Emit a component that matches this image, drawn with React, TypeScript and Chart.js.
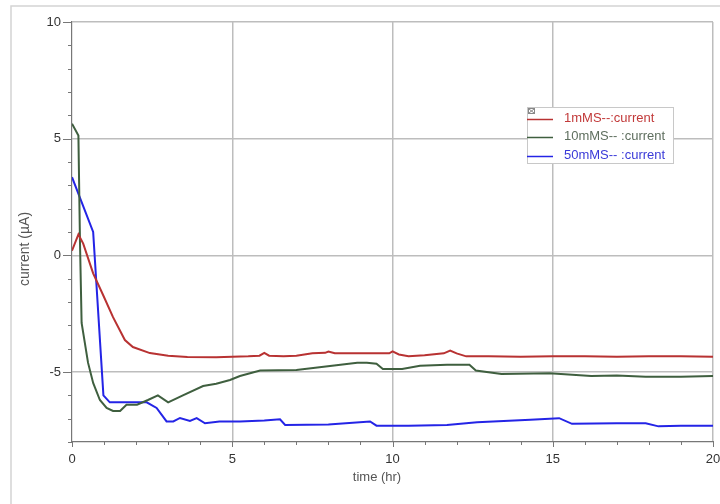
import React, { useEffect, useRef } from "react";
import { Chart, registerables } from "chart.js";

Chart.register(...registerables);

// ---- data ----
const timeRed = [0, 0.2, 0.35, 0.66, 0.97, 1.28, 1.65, 1.9, 2.43, 3.0, 3.6, 4.5, 5.5, 5.85, 6.0, 6.15, 6.6, 7.0, 7.5, 7.9, 8.0, 8.2, 9.0, 9.9, 10.0, 10.2, 10.5, 11.0, 11.6, 11.8, 12.0, 12.3, 13.0, 14.0, 15.0, 16.0, 17.0, 18.0, 19.0, 20.0];
const currentRed = [0.2, 0.9, 0.5, -0.77, -1.7, -2.65, -3.63, -3.93, -4.19, -4.3, -4.36, -4.37, -4.33, -4.3, -4.18, -4.3, -4.32, -4.3, -4.2, -4.18, -4.12, -4.2, -4.2, -4.2, -4.12, -4.25, -4.32, -4.28, -4.2, -4.08, -4.2, -4.33, -4.33, -4.35, -4.33, -4.33, -4.35, -4.33, -4.33, -4.35];

const timeGreen = [0, 0.2, 0.25, 0.3, 0.5, 0.66, 0.87, 1.08, 1.28, 1.5, 1.7, 2.03, 2.37, 2.68, 3.0, 3.46, 4.09, 4.5, 4.93, 5.24, 5.87, 7.0, 8.05, 8.9, 9.2, 9.5, 9.7, 10.3, 10.86, 11.7, 12.4, 12.6, 13.4, 14.9, 16.2, 17.0, 17.9, 19.0, 20.0];
const currentGreen = [5.64, 5.13, 0.5, -2.9, -4.6, -5.47, -6.2, -6.54, -6.67, -6.67, -6.4, -6.4, -6.2, -6.0, -6.3, -6.0, -5.6, -5.5, -5.34, -5.17, -4.94, -4.91, -4.74, -4.6, -4.6, -4.65, -4.87, -4.87, -4.73, -4.69, -4.69, -4.94, -5.09, -5.05, -5.17, -5.15, -5.2, -5.2, -5.17];

const timeBlue = [0, 0.66, 0.98, 1.18, 2.33, 2.64, 2.95, 3.16, 3.37, 3.68, 3.89, 4.15, 4.6, 5.24, 6.0, 6.49, 6.65, 8.0, 9.3, 9.5, 10.5, 11.7, 12.64, 14.3, 15.2, 15.6, 17.0, 17.9, 18.3, 19.0, 20.0];
const currentBlue = [3.35, 1.0, -6.0, -6.3, -6.3, -6.54, -7.12, -7.12, -6.97, -7.1, -6.98, -7.2, -7.12, -7.12, -7.08, -7.03, -7.27, -7.25, -7.12, -7.3, -7.3, -7.27, -7.15, -7.05, -6.98, -7.22, -7.2, -7.2, -7.33, -7.3, -7.3];

const seriesLabels = ["1mMS--:current", "10mMS-- :current", "50mMS-- :current"];
const lineColors = ["#b83232", "#3f5f3f", "#2424e6"];
const legendTextColors = ["#c23a3a", "#5f6f5f", "#3a3ad8"];

const xMajorTicks = [0, 5, 10, 15, 20];
const yMajorTicks = [-5, 0, 5, 10];
const xTitle = "time (hr)";
const yTitle = "current (µA)";

const FONT = "'Liberation Sans', Arial, sans-serif";

export default function App() {
  const ref = useRef<HTMLCanvasElement>(null);

  useEffect(() => {
    document.body.style.margin = "0";
    const canvas = ref.current;
    if (!canvas) return;
    const ctx = canvas.getContext("2d");
    if (!ctx) return;

    const pts = (xs: number[], ys: number[]) => xs.map((x, i) => ({ x, y: ys[i] }));

    const decor = {
      id: "decor",
      beforeDraw(chart: any) {
        const c = chart.ctx;
        c.save();
        c.fillStyle = "#ffffff";
        c.fillRect(0, 0, chart.width, chart.height);
        c.strokeStyle = "#d4d4d4";
        c.lineWidth = 1.5;
        c.beginPath();
        c.moveTo(11, chart.height);
        c.lineTo(11, 6);
        c.lineTo(chart.width, 6);
        c.stroke();
        c.restore();
      },
      afterDatasetsDraw(chart: any) {
        const c = chart.ctx;
        const xs = chart.scales.x;
        const ys = chart.scales.y;
        const area = chart.chartArea;
        c.save();
        // ticks
        c.strokeStyle = "#777";
        c.lineWidth = 1;
        c.beginPath();
        for (const t of ys.ticks) {
          const py = Math.round(ys.getPixelForValue(t.value)) + 0.5;
          const len = yMajorTicks.includes(t.value) ? 9 : 4;
          c.moveTo(area.left - len, py);
          c.lineTo(area.left, py);
        }
        for (const t of xs.ticks) {
          const px = Math.round(xs.getPixelForValue(t.value)) + 0.5;
          const len = xMajorTicks.includes(t.value) ? 5 : 3;
          c.moveTo(px, area.bottom - 1);
          c.lineTo(px, area.bottom + len);
        }
        c.stroke();

        // axis titles
        c.fillStyle = "#555";
        c.textAlign = "center";
        c.textBaseline = "middle";
        c.font = `13px ${FONT}`;
        c.fillText(xTitle, 377, 477);
        c.save();
        c.translate(25, 249);
        c.rotate(-Math.PI / 2);
        c.font = `14px ${FONT}`;
        c.fillText(yTitle, 0, 0);
        c.restore();

        // legend
        const bx = 527, by = 107, bw = 146, bh = 56;
        c.fillStyle = "#ffffff";
        c.fillRect(bx, by, bw, bh);
        c.strokeStyle = "#c8c8c8";
        c.lineWidth = 1;
        c.strokeRect(bx + 0.5, by + 0.5, bw, bh);
        // close icon
        c.strokeStyle = "#888";
        c.strokeRect(528.5, 108.5, 6, 5);
        c.beginPath();
        c.moveTo(529, 109); c.lineTo(534, 113);
        c.moveTo(534, 109); c.lineTo(529, 113);
        c.stroke();
        const rows = [118, 136, 155];
        c.textAlign = "left";
        c.font = `13px ${FONT}`;
        rows.forEach((ry, i) => {
          c.strokeStyle = lineColors[i];
          c.lineWidth = 1.5;
          c.beginPath();
          c.moveTo(527, ry + 1.5);
          c.lineTo(553, ry + 1.5);
          c.stroke();
          c.fillStyle = legendTextColors[i];
          c.fillText(seriesLabels[i], 564, ry);
        });
        c.restore();
      },
    };

    const chart = new Chart(ctx, {
      type: "line",
      data: {
        datasets: [
          { label: seriesLabels[0], data: pts(timeRed, currentRed), borderColor: lineColors[0] },
          { label: seriesLabels[1], data: pts(timeGreen, currentGreen), borderColor: lineColors[1] },
          { label: seriesLabels[2], data: pts(timeBlue, currentBlue), borderColor: lineColors[2] },
        ].map((d) => ({ ...d, borderWidth: 2, pointRadius: 0, tension: 0, fill: false })),
      },
      options: {
        responsive: false,
        animation: false,
        layout: { padding: { left: 0, top: 22, right: 7, bottom: 0 } },
        plugins: { legend: { display: false }, tooltip: { enabled: false } },
        scales: {
          x: {
            type: "linear",
            min: 0,
            max: 20,
            afterFit: (s: any) => { s.height = 62; s.paddingLeft = 0; s.paddingRight = 0; },
            ticks: {
              stepSize: 1,
              autoSkip: false,
              maxRotation: 0,
              padding: 10,
              color: "#333",
              font: { family: FONT, size: 13 },
              callback: (v: any) => (xMajorTicks.includes(Number(v)) ? String(v) : ""),
            },
            grid: {
              drawTicks: false,
              lineWidth: 1.5,
              color: (c: any) => (c.tick && xMajorTicks.includes(c.tick.value) && c.tick.value !== 0 ? "#bdbdbd" : "rgba(0,0,0,0)"),
            },
            border: { display: true, color: "#777", width: 1.2 },
          },
          y: {
            type: "linear",
            min: -8,
            max: 10,
            afterFit: (s: any) => { s.width = 72; s.paddingTop = 0; s.paddingBottom = 0; },
            ticks: {
              stepSize: 1,
              autoSkip: false,
              padding: 11,
              color: "#333",
              font: { family: FONT, size: 13 },
              callback: (v: any) => (yMajorTicks.includes(Number(v)) ? String(v) : ""),
            },
            grid: {
              drawTicks: false,
              lineWidth: 1.5,
              color: (c: any) => (c.tick && yMajorTicks.includes(c.tick.value) ? "#bdbdbd" : "rgba(0,0,0,0)"),
            },
            border: { display: true, color: "#777", width: 1.2 },
          },
        },
      },
      plugins: [decor],
    } as any);

    return () => chart.destroy();
  }, []);

  return (
    <div style={{ position: "absolute", left: 0, top: 0, width: 720, height: 504 }}>
      <canvas ref={ref} width={720} height={504} style={{ width: 720, height: 504, display: "block" }} />
    </div>
  );
}
